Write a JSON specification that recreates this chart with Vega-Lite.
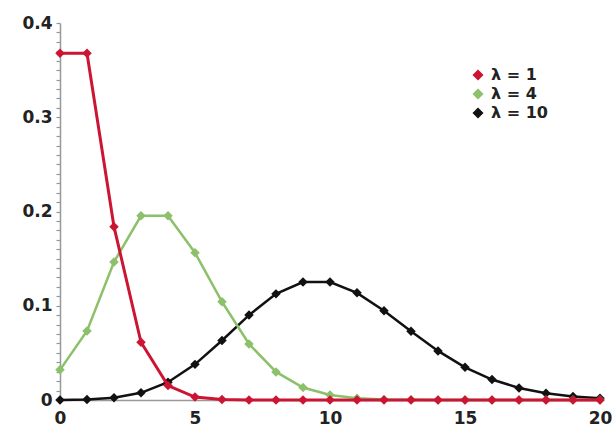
{
  "$schema": "https://vega.github.io/schema/vega-lite/v6.json",
  "autosize": "none",
  "width": 540,
  "height": 377,
  "padding": {"left": 60, "top": 23, "right": 15, "bottom": 30},
  "background": "white",
  "config": {"view": {"stroke": null}, "font": "DejaVu Sans"},
  "data": {"values": [
    {"k":0,"p":0.3679,"s":"λ = 1"},{"k":1,"p":0.3679,"s":"λ = 1"},{"k":2,"p":0.1839,"s":"λ = 1"},{"k":3,"p":0.0613,"s":"λ = 1"},{"k":4,"p":0.0153,"s":"λ = 1"},{"k":5,"p":0.0031,"s":"λ = 1"},{"k":6,"p":0.0005,"s":"λ = 1"},{"k":7,"p":0.0001,"s":"λ = 1"},{"k":8,"p":0,"s":"λ = 1"},{"k":9,"p":0,"s":"λ = 1"},{"k":10,"p":0,"s":"λ = 1"},{"k":11,"p":0,"s":"λ = 1"},{"k":12,"p":0,"s":"λ = 1"},{"k":13,"p":0,"s":"λ = 1"},{"k":14,"p":0,"s":"λ = 1"},{"k":15,"p":0,"s":"λ = 1"},{"k":16,"p":0,"s":"λ = 1"},{"k":17,"p":0,"s":"λ = 1"},{"k":18,"p":0,"s":"λ = 1"},{"k":19,"p":0,"s":"λ = 1"},{"k":20,"p":0,"s":"λ = 1"},
    {"k":0,"p":0.032,"s":"λ = 4"},{"k":1,"p":0.0733,"s":"λ = 4"},{"k":2,"p":0.1465,"s":"λ = 4"},{"k":3,"p":0.1954,"s":"λ = 4"},{"k":4,"p":0.1954,"s":"λ = 4"},{"k":5,"p":0.1563,"s":"λ = 4"},{"k":6,"p":0.1042,"s":"λ = 4"},{"k":7,"p":0.0595,"s":"λ = 4"},{"k":8,"p":0.0298,"s":"λ = 4"},{"k":9,"p":0.0132,"s":"λ = 4"},{"k":10,"p":0.0053,"s":"λ = 4"},{"k":11,"p":0.0019,"s":"λ = 4"},{"k":12,"p":0.0006,"s":"λ = 4"},{"k":13,"p":0.0002,"s":"λ = 4"},{"k":14,"p":0,"s":"λ = 4"},{"k":15,"p":0,"s":"λ = 4"},{"k":16,"p":0,"s":"λ = 4"},{"k":17,"p":0,"s":"λ = 4"},{"k":18,"p":0,"s":"λ = 4"},{"k":19,"p":0,"s":"λ = 4"},{"k":20,"p":0,"s":"λ = 4"},
    {"k":0,"p":0.0000,"s":"λ = 10"},{"k":1,"p":0.0005,"s":"λ = 10"},{"k":2,"p":0.0023,"s":"λ = 10"},{"k":3,"p":0.0076,"s":"λ = 10"},{"k":4,"p":0.0189,"s":"λ = 10"},{"k":5,"p":0.0378,"s":"λ = 10"},{"k":6,"p":0.0631,"s":"λ = 10"},{"k":7,"p":0.0901,"s":"λ = 10"},{"k":8,"p":0.1126,"s":"λ = 10"},{"k":9,"p":0.1251,"s":"λ = 10"},{"k":10,"p":0.1251,"s":"λ = 10"},{"k":11,"p":0.1137,"s":"λ = 10"},{"k":12,"p":0.0948,"s":"λ = 10"},{"k":13,"p":0.0729,"s":"λ = 10"},{"k":14,"p":0.0521,"s":"λ = 10"},{"k":15,"p":0.0347,"s":"λ = 10"},{"k":16,"p":0.0217,"s":"λ = 10"},{"k":17,"p":0.0128,"s":"λ = 10"},{"k":18,"p":0.0071,"s":"λ = 10"},{"k":19,"p":0.0037,"s":"λ = 10"},{"k":20,"p":0.0019,"s":"λ = 10"}
  ]},
  "encoding": {
    "x": {"field": "k", "type": "quantitative", "scale": {"domain": [0, 20], "nice": false},
      "axis": {"title": null, "values": [0,5,10,15,20], "grid": false, "ticks": false, "labelFontSize": 17, "labelFontWeight": "bold", "labelColor": "#222", "domainColor": "#999", "domainWidth": 1.5, "labelPadding": 10, "labelFlush": false}},
    "y": {"field": "p", "type": "quantitative", "scale": {"domain": [0, 0.4], "nice": false},
      "axis": {"title": null, "grid": false, "values": [0,0.01,0.02,0.03,0.04,0.05,0.06,0.07,0.08,0.09,0.1,0.11,0.12,0.13,0.14,0.15,0.16,0.17,0.18,0.19,0.2,0.21,0.22,0.23,0.24,0.25,0.26,0.27,0.28,0.29,0.3,0.31,0.32,0.33,0.34,0.35,0.36,0.37,0.38,0.39,0.4],
        "labelExpr": "abs(datum.value*10 - round(datum.value*10)) < 0.001 ? (datum.value == 0 ? '0' : format(datum.value, '.1f')) : ''",
        "labelOverlap": false, "labelFontSize": 17, "labelFontWeight": "bold", "labelColor": "#222", "tickSize": 4, "tickWidth": 1.2, "tickColor": "#8a9aa8", "domainColor": "#999", "domainWidth": 1.5, "labelPadding": 4, "labelFlush": false}},
    "color": {"field": "s", "type": "nominal",
      "scale": {"domain": ["λ = 1", "λ = 4", "λ = 10"], "range": ["#cc1433", "#8cc06a", "#111111"]},
      "legend": {"title": null, "orient": "none", "legendX": 410, "legendY": 44, "labelFontSize": 16, "labelFontWeight": "bold", "labelColor": "#222", "symbolType": "diamond", "symbolSize": 80, "rowPadding": 3, "labelOffset": 5}}
  },
  "layer": [
    {"transform": [{"filter": "datum.s == 'λ = 10'"}], "mark": {"type": "line", "strokeWidth": 2.5, "point": {"shape": "diamond", "size": 90, "filled": true}}},
    {"transform": [{"filter": "datum.s == 'λ = 4'"}], "mark": {"type": "line", "strokeWidth": 2.5, "point": {"shape": "diamond", "size": 90, "filled": true}}},
    {"transform": [{"filter": "datum.s == 'λ = 1'"}], "mark": {"type": "line", "strokeWidth": 3, "point": {"shape": "diamond", "size": 90, "filled": true}}}
  ]
}
